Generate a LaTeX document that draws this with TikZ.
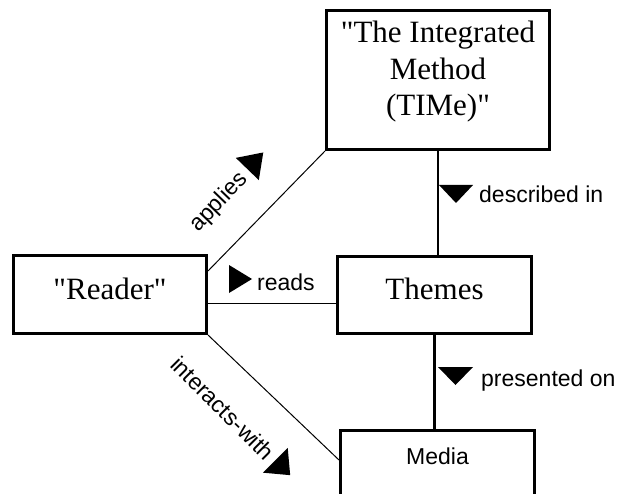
\documentclass[tikz,border=0pt]{standalone}
\usepackage{fontspec}
\setmainfont{Liberation Serif}[Ligatures=TeXOff]
\setsansfont{Liberation Sans}

\tikzset{
  box/.style={draw, line width=3pt, inner sep=0pt, font=\fontsize{31}{36.7}\selectfont},
  rel/.style={font=\sffamily\fontsize{23}{27}\selectfont, inner sep=0pt},
}

\begin{document}
\begin{tikzpicture}[x=1pt,y=1pt]
    \useasboundingbox (0,0) rectangle (623,-494);
    \clip (0,0) rectangle (623,-494);

    % boxes
    \node[box, anchor=north west, minimum width=223pt, text height=32pt, text depth=107pt] (method) at (325,-9)
      {\begin{tabular}[t]{@{}c@{}}"The Integrated\\Method\\(TIMe)"\end{tabular}};
    \node[box, anchor=north west, minimum width=193pt, text height=44pt, text depth=34pt] (reader) at (12,-254) {"Reader"};
    \node[box, anchor=north west, minimum width=194pt, text height=43pt, text depth=34pt] (themes) at (336,-255) {Themes};
    \node[box, anchor=north west, minimum width=194pt, text height=34pt, text depth=70pt,
      font=\sffamily\fontsize{23}{27}\selectfont] (media) at (339,-429) {Media};

    % connectors
    \draw[line width=2pt] (method.south) -- (method.south |- themes.north);
    \draw[line width=3pt] (themes.south) -- (themes.south |- media.north);
    \draw[line width=1.5pt] ([yshift=-9pt]reader.east) -- ([yshift=-9pt]reader.east -| themes.west);
    \draw[line width=1pt] ([yshift=-17pt]reader.north east) -- (method.south west);
    \draw[line width=1pt] (reader.south east) -- ([yshift=-31pt]media.north west);

    % labels
    \node[rel, anchor=base west, rotate=46] (applies) at (198,-233) {applies};
    \fill[shift={(applies.base east)}, rotate=46] (7,-7) -- (7,25) -- (30,9) -- cycle;
    \node[rel, anchor=base west] (reads) at (257,-290) {reads};
    \fill[shift={(reads.base west)}] (-28,-3) -- (-28,25) -- (-5,11) -- cycle;
    \node[rel, anchor=base west] (described) at (479,-203) {described in};
    \fill[shift={(described.base west)}] (-40,18) -- (-6,18) -- (-23,0) -- cycle;
    \node[rel, anchor=base west] (presented) at (481,-386) {presented on};
    \fill[shift={(presented.base west)}] (-43,19) -- (-8,19) -- (-25.5,1) -- cycle;
    \node[rel, anchor=base west, rotate=-45] (interacts) at (169,-366) {interacts-with};
    \fill[shift={(interacts.base east)}, rotate=-45] (6,-9) -- (6,26) -- (27,8.5) -- cycle;
\end{tikzpicture}
\end{document}
